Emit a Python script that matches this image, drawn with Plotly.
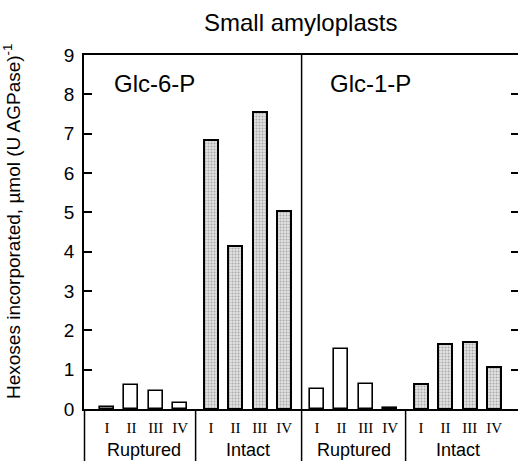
import plotly.graph_objects as go

# ---- data ----
panels = ["Glc-6-P", "Glc-1-P"]
groups = ["Ruptured", "Intact"]
preps = ["I", "II", "III", "IV"]
glc6p_ruptured = [0.05, 0.60, 0.46, 0.16]
glc6p_intact = [6.84, 4.15, 7.54, 5.04]
glc1p_ruptured = [0.51, 1.52, 0.63, 0.02]
glc1p_intact = [0.63, 1.65, 1.70, 1.07]
y_ticks = list(range(0, 10))

values = {
    ("Glc-6-P", "Ruptured"): glc6p_ruptured,
    ("Glc-6-P", "Intact"): glc6p_intact,
    ("Glc-1-P", "Ruptured"): glc1p_ruptured,
    ("Glc-1-P", "Intact"): glc1p_intact,
}

# ---- layout constants (axis units) ----
W, H = 518, 461
ML, MR, MT, MB = 84, 0, 55, 52
X0, X1 = 84, 518
FIRST = 107.0
PANEL_STEP = 210.0
GROUP_STEP = 104.0
BAR_STEP = 24.4
BAR_W = 14

def xpos(p, g, i):
    return FIRST + p * PANEL_STEP + g * GROUP_STEP + i * BAR_STEP

def xpaper(x):
    return (x - X0) / (X1 - X0)

plot_h = H - MT - MB

def ypaper(px):
    return (H - MB - px) / plot_h

fig = go.Figure()
tickvals, ticktext = [], []
for p, panel in enumerate(panels):
    for g, grp in enumerate(groups):
        xs = [xpos(p, g, i) for i in range(len(preps))]
        tickvals += xs
        ticktext += preps
        if grp == "Ruptured":
            marker = dict(color="white", line=dict(color="black", width=1.6))
        else:
            marker = dict(color="#d4d4d4",
                          pattern=dict(shape=".", fgcolor="#707070", bgcolor="#e2e2e2",
                                       size=3, solidity=0.35),
                          line=dict(color="black", width=2))
        fig.add_trace(go.Bar(x=xs, y=values[(panel, grp)], width=BAR_W,
                             marker=marker, showlegend=False))

# dummy trace for right axis
fig.add_trace(go.Scatter(x=[X0], y=[0], yaxis="y2", mode="markers",
                         marker=dict(opacity=0), showlegend=False, hoverinfo="skip"))

shapes = []
line_style = dict(color="black", width=1.5)
bottom_y = ypaper(H + 2)
sep_x = [X0 + 0.5,
         (xpos(0, 0, 3) + xpos(0, 1, 0)) / 2,
         (xpos(1, 0, 3) + xpos(1, 1, 0)) / 2]
for sx in sep_x:
    shapes.append(dict(type="line", xref="paper", yref="paper",
                       x0=xpaper(sx), x1=xpaper(sx), y0=0, y1=bottom_y, line=line_style))
div_x = (xpos(0, 1, 3) + xpos(1, 0, 0)) / 2 + 1
shapes.append(dict(type="line", xref="paper", yref="paper",
                   x0=xpaper(div_x), x1=xpaper(div_x), y0=1, y1=bottom_y, line=line_style))

annotations = []
annotations.append(dict(text="Glc-6-P", xref="paper", yref="paper", x=xpaper(112), y=ypaper(84),
                        xanchor="left", yanchor="middle", showarrow=False,
                        font=dict(family="Liberation Sans, Arial", size=24, color="black")))
annotations.append(dict(text="Glc-1-P", xref="paper", yref="paper", x=xpaper(328), y=ypaper(84),
                        xanchor="left", yanchor="middle", showarrow=False,
                        font=dict(family="Liberation Sans, Arial", size=24, color="black")))
for p in range(len(panels)):
    for g, grp in enumerate(groups):
        cx = (xpos(p, g, 0) + xpos(p, g, 3)) / 2
        annotations.append(dict(text=grp, xref="paper", yref="paper", x=xpaper(cx), y=ypaper(450),
                                xanchor="center", yanchor="middle", showarrow=False,
                                font=dict(family="Liberation Sans, Arial", size=18, color="black")))
annotations.append(dict(text="Hexoses incorporated, µmol (U AGPase)<sup>-1</sup>",
                        xref="paper", yref="paper", x=xpaper(12), y=ypaper(222),
                        xanchor="center", yanchor="middle", textangle=-90, showarrow=False,
                        font=dict(family="Liberation Sans, Arial", size=19, color="black")))
annotations.append(dict(text="Small amyloplasts", xref="paper", yref="paper",
                        x=xpaper(300), y=ypaper(23), xanchor="center", yanchor="middle",
                        showarrow=False,
                        font=dict(family="Liberation Sans, Arial", size=24, color="black")))

fig.update_layout(
    width=W, height=H,
    margin=dict(l=ML, r=MR, t=MT, b=MB),
    plot_bgcolor="white", paper_bgcolor="white",
    bargap=0,
    xaxis=dict(range=[X0, X1], tickvals=tickvals, ticktext=ticktext, ticks="",
               showline=True, linecolor="black", linewidth=1.5, mirror=True,
               showgrid=False, zeroline=False, ticklabelstandoff=4,
               tickfont=dict(family="Liberation Serif, Times New Roman", size=15, color="black")),
    yaxis=dict(range=[0, 9], tickvals=y_ticks, ticks="inside", ticklen=8, tickwidth=1.5,
               tickcolor="black", showline=True, linecolor="black", linewidth=1.5,
               showgrid=False, zeroline=False, ticklabelstandoff=4,
               tickfont=dict(family="Liberation Sans, Arial", size=19, color="black")),
    yaxis2=dict(range=[0, 9], overlaying="y", side="right", tickvals=y_ticks[1:-1],
                ticks="inside", ticklen=7, tickwidth=1.5, tickcolor="black",
                showticklabels=False, showline=False, showgrid=False, zeroline=False),
    shapes=shapes,
    annotations=annotations,
)

fig.write_html("out.html")
